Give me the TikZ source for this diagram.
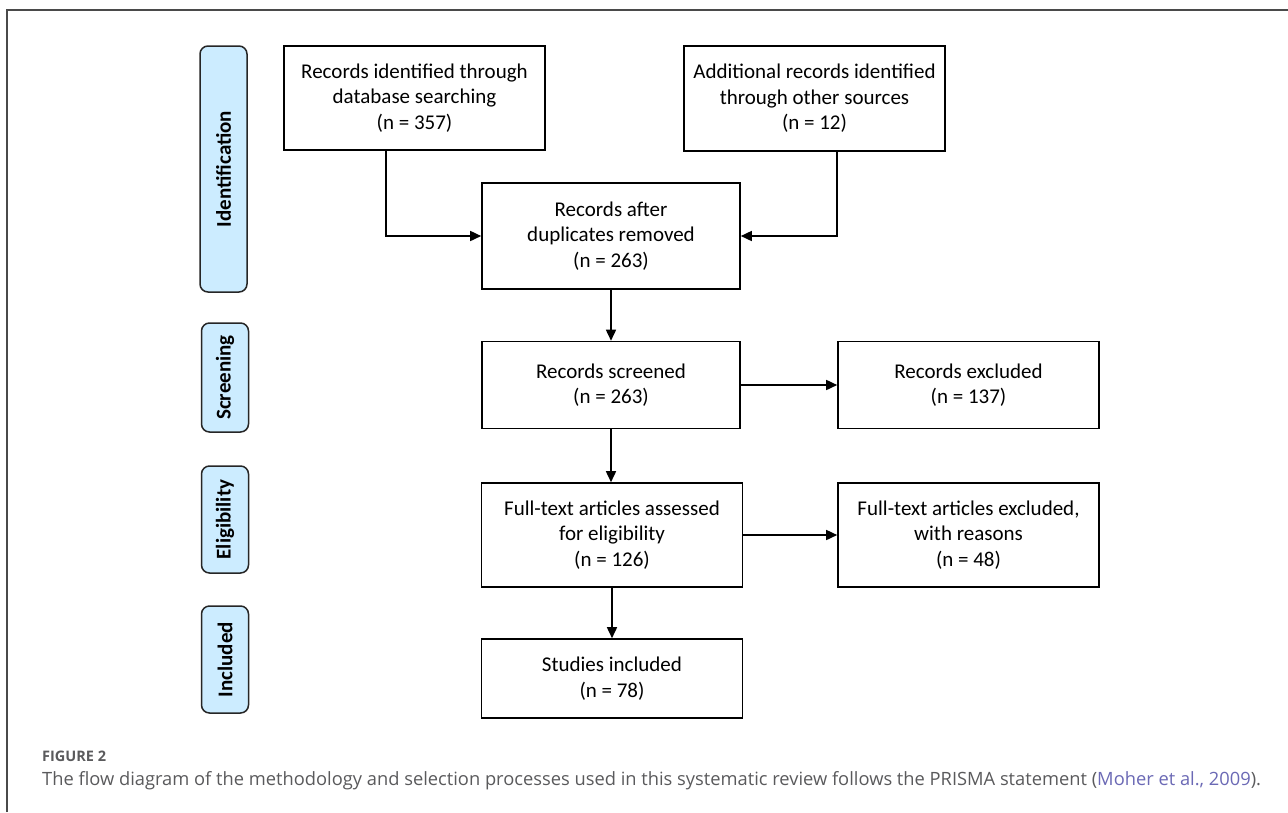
\documentclass[tikz,border=0pt]{standalone}
\usepackage{fontspec}
\setmainfont{Carlito}
\newfontfamily\capfont{Open Sans}
\usetikzlibrary{arrows.meta}
\definecolor{pillblue}{HTML}{CCECFF}
\definecolor{capgray}{HTML}{5A5A5C}
\definecolor{citeblue}{HTML}{6B69B5}
\definecolor{framegray}{HTML}{4A4A4A}
\tikzset{
  box/.style={draw=black, line width=1.6pt, fill=white, inner sep=0pt, align=center,
    font=\fontsize{21}{25.5}\selectfont},
  pill/.style={draw=black!85, line width=1.5pt, fill=pillblue, rounded corners=8pt,
    inner sep=0pt, minimum height=47pt, rotate=90,
    font=\bfseries\fontsize{21}{25}\selectfont},
  arr/.style={line width=1.6pt, -{Triangle[length=11pt,width=10pt]}},
}
\begin{document}
\begin{tikzpicture}[x=1pt,y=-1pt]
\useasboundingbox (0,0) rectangle (1288,812);
\fill[white] (0,0) rectangle (1288,812);
% frame
\draw[framegray, line width=1.6pt] (7,812) -- (7,10) -- (1288,10);

% phase labels
\node[pill, minimum width=246pt] (pid) at (223.5,169) {Identification};
\node[pill, minimum width=109pt] (psc) at (225,377.5) {Screening};
\node[pill, minimum width=107pt] (pel) at (225,519.5) {Eligibility};
\node[pill, minimum width=107pt] (pin) at (225,659.5) {Included};

% boxes
\node[box, minimum width=261pt, minimum height=104pt] (b1) at (414.5,98)
  {Records identified through\\database searching\\(n = 357)};
\node[box, minimum width=261pt, minimum height=105pt] (b2) at (814.5,98.5)
  {Additional records identified\\through other sources\\(n = 12)};
\node[box, minimum width=258pt, minimum height=106pt] (b3) at (611,236)
  {Records after\\duplicates removed\\(n = 263)};
\node[box, minimum width=258pt, minimum height=87pt] (b4) at (611,385)
  {Records screened\\(n = 263)};
\node[box, minimum width=261pt, minimum height=87pt] (b5) at (968.5,385)
  {Records excluded\\(n = 137)};
\node[box, minimum width=261pt, minimum height=104pt] (b6) at (612,535)
  {Full-text articles assessed\\for eligibility\\(n = 126)};
\node[box, minimum width=261pt, minimum height=104pt] (b7) at (968.5,535)
  {Full-text articles excluded,\\with reasons\\(n = 48)};
\node[box, minimum width=261pt, minimum height=79pt] (b8) at (612,678.5)
  {Studies included\\(n = 78)};

% connectors
\draw[arr] ([xshift=-28.5pt]b1.south) |- (b3.west);
\draw[arr] ([xshift=22.5pt]b2.south) |- (b3.east);
\draw[arr] (b3.south) -- (b4.north);
\draw[arr] (b4.east) -- (b5.west);
\draw[arr] (b4.south) -- (b4.south |- b6.north);
\draw[arr] (b6.east) -- (b7.west);
\draw[arr] (b6.south) -- (b8.north);

% caption
\node[anchor=base west, inner sep=0pt, text=capgray, font=\capfont\bfseries\fontsize{14.5}{17}\selectfont] (fig) at (42,761) {FIGURE 2};
\node[anchor=base west, inner sep=0pt, text=capgray, font=\capfont\fontsize{18.3}{21}\selectfont] (cap) at (42,785)
  {The flow diagram of the methodology and selection processes used in this systematic review follows the PRISMA statement (\textcolor{citeblue}{Moher et al., 2009}).};
\end{tikzpicture}
\end{document}
